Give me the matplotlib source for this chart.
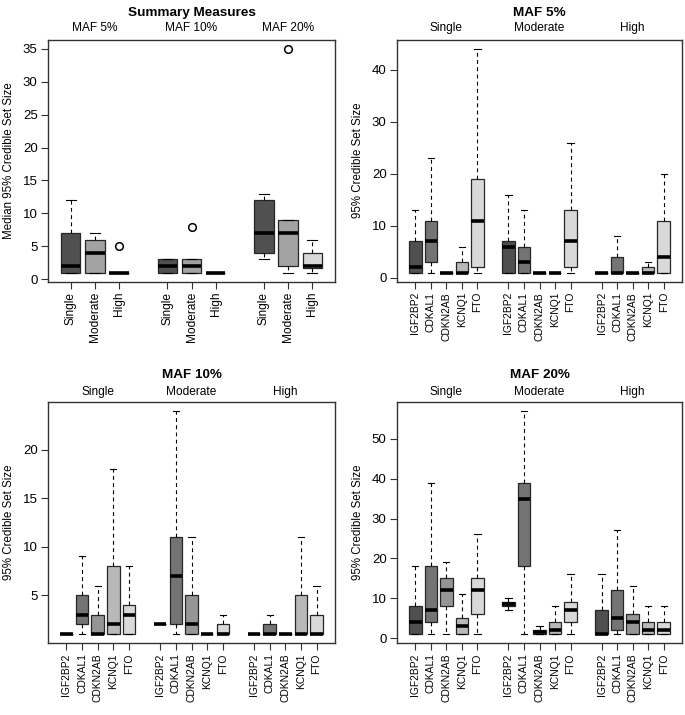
import matplotlib.pyplot as plt
from matplotlib import transforms

plt.rcParams['font.family'] = ['Liberation Sans', 'DejaVu Sans']

# Group / category names
maf_names = ['MAF 5%', 'MAF 10%', 'MAF 20%']
levels = ['Single', 'Moderate', 'High']
genes = ['IGF2BP2', 'CDKAL1', 'CDKN2AB', 'KCNQ1', 'FTO']

# Box statistics: (lower whisker, q1, median, q3, upper whisker)
summary_stats = [
    (1, 1, 2, 7, 12), (1, 1, 4, 6, 7), (1, 1, 1, 1, 1),          # MAF 5%
    (1, 1, 2, 3, 3), (1, 1, 2, 3, 3), (1, 1, 1, 1, 1),           # MAF 10%
    (3, 4, 7, 12, 13), (1, 2, 7, 9, 9), (1, 1.75, 2, 4, 6),      # MAF 20%
]
summary_outliers = [[], [], [5], [], [8], [], [], [35], []]

maf5_stats = [
    (1, 1, 2, 7, 13), (1, 3, 7, 11, 23), (1, 1, 1, 1, 1), (1, 1, 1, 3, 6), (1, 2, 11, 19, 44),
    (1, 1, 6, 7, 16), (1, 1, 3, 6, 13), (1, 1, 1, 1, 1), (1, 1, 1, 1, 1), (1, 2, 7, 13, 26),
    (1, 1, 1, 1, 1), (1, 1, 1, 4, 8), (1, 1, 1, 1, 1), (1, 1, 1, 2, 3), (1, 1, 4, 11, 20),
]
maf10_stats = [
    (1, 1, 1, 1, 1), (1, 2, 3, 5, 9), (1, 1, 1, 3, 6), (1, 1, 2, 8, 18), (1, 1, 3, 4, 8),
    (2, 2, 2, 2, 2), (1, 2, 7, 11, 24), (1, 1, 2, 5, 11), (1, 1, 1, 1, 1), (1, 1, 1, 2, 3),
    (1, 1, 1, 1, 1), (1, 1, 1, 2, 3), (1, 1, 1, 1, 1), (1, 1, 1, 5, 11), (1, 1, 1, 3, 6),
]
maf20_stats = [
    (1, 1, 4, 8, 18), (1, 4, 7, 18, 39), (1, 8, 12, 15, 19), (1, 1, 3, 5, 11), (1, 6, 12, 15, 26),
    (7, 8, 8.5, 9, 10), (1, 18, 35, 39, 57), (1, 1, 1.5, 2, 3), (1, 1, 2, 4, 8), (1, 4, 7, 9, 16),
    (1, 1, 1, 7, 16), (1, 2, 5, 12, 27), (1, 1, 4, 6, 13), (1, 1, 2, 4, 8), (1, 1, 2, 4, 8),
]

level_colors = ['#505050', '#a2a2a2', '#d8d8d8']
gene_colors = ['#4f4f4f', '#747474', '#959595', '#b9b9b9', '#d9d9d9']

W, H = 685, 715
fig = plt.figure(figsize=(W / 100, H / 100), dpi=100)


def add_axes(x0, y0, x1, y1):
    return fig.add_axes([x0 / W, 1 - y1 / H, (x1 - x0) / W, (y1 - y0) / H])


def draw_panel(ax, stats, outliers, labels, groups, colors, title, ylabel,
               yticks, label_size, group_off):
    n = len(labels)
    pos = [g * (n + 1) + i + 1 for g in range(len(groups)) for i in range(n)]
    boxes = []
    for k, s in enumerate(stats):
        boxes.append(dict(whislo=s[0], q1=s[1], med=s[2], q3=s[3], whishi=s[4],
                          fliers=outliers[k] if outliers else []))
    art = ax.bxp(boxes, positions=pos, widths=0.8, capwidths=0.4,
                 patch_artist=True, manage_ticks=False,
                 boxprops=dict(edgecolor='#262626', linewidth=0.9),
                 whiskerprops=dict(color='black', linewidth=0.8, linestyle=(0, (3.5, 3))),
                 capprops=dict(color='black', linewidth=0.8),
                 medianprops=dict(color='black', linewidth=2.6, solid_capstyle='butt'),
                 flierprops=dict(marker='o', markerfacecolor='none',
                                 markeredgecolor='black', markersize=5.5,
                                 markeredgewidth=1.1))
    for k, patch in enumerate(art['boxes']):
        patch.set_facecolor(colors[k % n])

    # R-like axis ranges (4% extension)
    vals = [v for s in stats for v in s] + [v for o in (outliers or []) for v in o]
    lo, hi = min(vals), max(vals)
    ax.set_ylim(lo - 0.04 * (hi - lo), hi + 0.04 * (hi - lo))
    x0, x1 = min(pos) - 0.5, max(pos) + 0.5
    ax.set_xlim(x0 - 0.04 * (x1 - x0), x1 + 0.04 * (x1 - x0))

    ax.set_xticks(pos)
    ax.set_xticklabels(labels * len(groups), rotation=90, fontsize=label_size)
    ax.set_yticks(yticks)
    ax.set_yticklabels([str(t) for t in yticks], fontsize=9.5)
    ax.tick_params(direction='out', length=5, width=0.8, pad=2.5, color='#333333')
    for sp in ax.spines.values():
        sp.set_color('#333333')
        sp.set_linewidth(1.0)

    ax.set_ylabel(ylabel, fontsize=8.3)
    ax.yaxis.label.set_va('center')
    ax.yaxis.set_label_coords(-39 / (ax.get_position().width * W), 0.5)

    trans = transforms.blended_transform_factory(ax.transData, ax.transAxes)
    for g, name in enumerate(groups):
        c = g * (n + 1) + (n + 1) / 2
        ax.annotate(name, xy=(c, 1), xycoords=trans, xytext=(0, group_off),
                    textcoords='offset points', ha='center', va='center', fontsize=8.6)
    ax.annotate(title, xy=(0.5, 1), xycoords='axes fraction', xytext=(0, 19.5),
                textcoords='offset points', ha='center', va='center',
                fontsize=9.7, fontweight='bold')


ax1 = add_axes(48, 40, 335, 281.5)
draw_panel(ax1, summary_stats, summary_outliers, levels, maf_names, level_colors,
           'Summary Measures', 'Median 95% Credible Set Size',
           [0, 5, 10, 15, 20, 25, 30, 35], 8.6, 8.5)

ax2 = add_axes(397, 40, 682, 281.5)
draw_panel(ax2, maf5_stats, None, genes, levels, gene_colors,
           'MAF 5%', '95% Credible Set Size', [0, 10, 20, 30, 40], 7.4, 8.5)

ax3 = add_axes(48, 402, 335, 643)
draw_panel(ax3, maf10_stats, None, genes, levels, gene_colors,
           'MAF 10%', '95% Credible Set Size', [5, 10, 15, 20], 7.4, 7.5)

ax4 = add_axes(397, 402, 682, 643)
draw_panel(ax4, maf20_stats, None, genes, levels, gene_colors,
           'MAF 20%', '95% Credible Set Size', [0, 10, 20, 30, 40, 50], 7.4, 7.5)

fig.savefig('out.png', dpi=100)
